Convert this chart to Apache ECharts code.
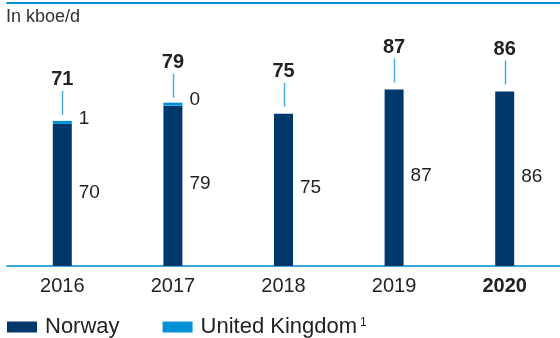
<!DOCTYPE html>
<html>
<head>
<meta charset="utf-8">
<script src="https://cdn.jsdelivr.net/npm/echarts@6/dist/echarts.min.js"></script>
<style>html,body{margin:0;padding:0;background:#fff}#c{width:560px;height:338px}</style>
</head>
<body>
<div id="c"></div>
<script>
var categories = ['2016', '2017', '2018', '2019', '2020'];
var norway = [70, 79, 75, 87, 86];
var uk = [1, 0.4, null, null, null];
var unitLabel = 'In kboe/d';
var seriesNames = ['Norway', 'United Kingdom'];

var totals = categories.map(function (c, i) { return [i, norway[i] + (uk[i] || 0)]; });

var FONT = '"Liberation Sans", Arial, sans-serif';
var chart = echarts.init(document.getElementById('c'), null, { renderer: 'canvas' });
chart.setOption({
  animation: false,
  textStyle: { fontFamily: FONT },
  title: {
    text: unitLabel, left: 6, top: 8, padding: 0,
    textStyle: { fontFamily: FONT, fontSize: 18, fontWeight: 'normal', color: '#333' }
  },
  grid: { left: 7, right: -4, top: 63, bottom: 72, containLabel: false },
  legend: {
    left: 7, top: 316, itemWidth: 30, itemHeight: 11, itemGap: 43,
    icon: 'rect', padding: 0,
    data: seriesNames,
    formatter: function (n) { return n === 'United Kingdom' ? n + '{sup|1}' : n; },
    textStyle: {
      fontFamily: FONT, fontSize: 22, color: '#222', padding: [0, 0, 0, 3],
      rich: { sup: { fontSize: 12, fontFamily: FONT, color: '#222', padding: [0, 0, 9, 3] } }
    }
  },
  xAxis: [{
    type: 'category', data: categories, position: 'bottom',
    axisLine: { lineStyle: { color: '#3aa8dd', width: 2 } },
    axisTick: { show: false },
    axisLabel: {
      fontFamily: FONT, fontSize: 20, color: '#222', margin: 10,
      formatter: function (v) { return v === '2020' ? '{b|' + v + '}' : v; },
      rich: { b: { fontFamily: FONT, fontSize: 20, fontWeight: 'bold', color: '#222' } }
    }
  }, {
    type: 'category', data: categories, position: 'top', offset: 60.5,
    axisLine: { lineStyle: { color: '#0a8fd0', width: 2 } },
    axisTick: { show: false }, axisLabel: { show: false }
  }],
  yAxis: {
    type: 'value', min: 0, max: 100, show: false, splitLine: { show: false }
  },
  series: [{
    name: 'Norway', type: 'bar', stack: 't', barWidth: 19, data: norway,
    itemStyle: { color: '#00386c' },
    label: {
      show: true, position: 'right', distance: 7, offset: [0, -2],
      fontFamily: FONT, fontSize: 19, color: '#222'
    }
  }, {
    name: 'United Kingdom', type: 'bar', stack: 't', barWidth: 19, data: uk,
    barMinHeight: 3,
    itemStyle: { color: '#0090d5' },
    label: {
      show: true, position: 'right', distance: 7, offset: [0, -4],
      fontFamily: FONT, fontSize: 19, color: '#222',
      formatter: function (p) { return String(Math.round(p.value)); }
    }
  }, {
    type: 'custom', data: totals, z: 5,
    renderItem: function (params, api) {
      var p = api.coord([api.value(0), api.value(1)]);
      var x = Math.round(p[0]) + 0.5;
      return {
        type: 'group',
        children: [{
          type: 'line',
          shape: { x1: x, y1: p[1] - 7, x2: x, y2: p[1] - 31 },
          style: { stroke: '#4aace0', lineWidth: 1.5 }
        }, {
          type: 'text',
          style: {
            x: p[0], y: p[1] - 32, text: String(Math.round(api.value(1))),
            fontFamily: FONT, fontSize: 20, fontWeight: 'bold', fill: '#222',
            align: 'center', verticalAlign: 'bottom'
          }
        }]
      };
    }
  }]
});
</script>
</body>
</html>
